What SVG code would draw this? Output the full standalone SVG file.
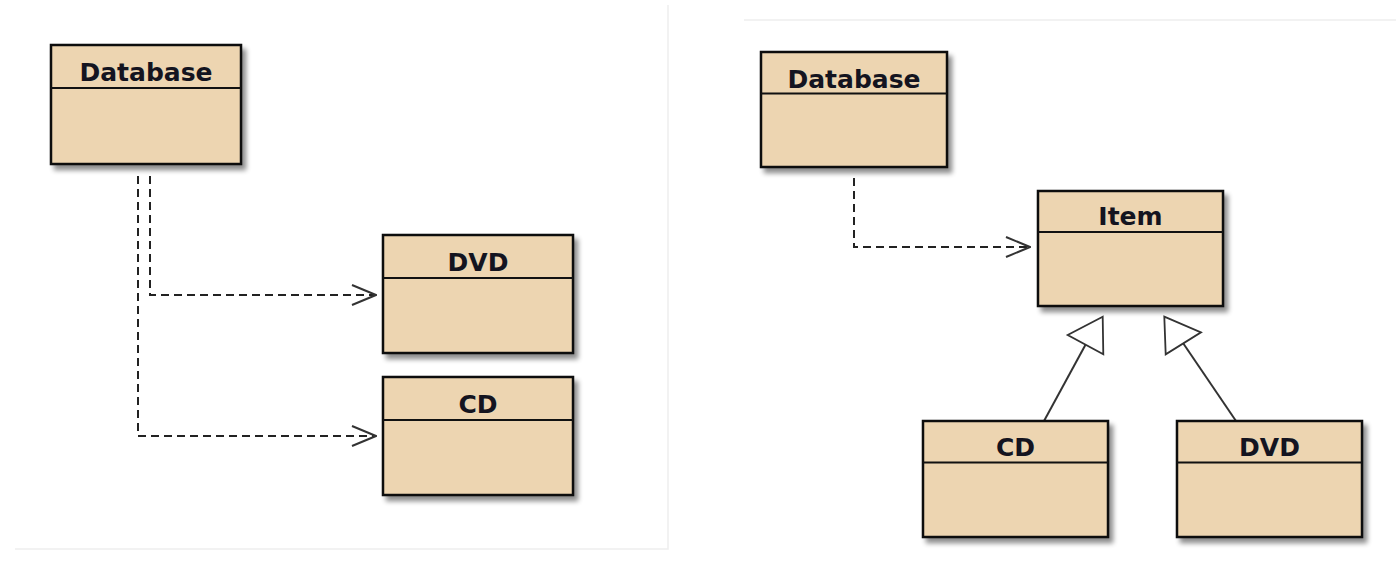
<svg xmlns="http://www.w3.org/2000/svg" width="1396" height="584" viewBox="0 0 1396 584">
<defs>
<filter id="sh" x="-10%" y="-10%" width="130%" height="130%">
<feGaussianBlur in="SourceAlpha" stdDeviation="2.5"/>
<feOffset dx="4" dy="5" result="b"/>
<feComponentTransfer><feFuncA type="linear" slope="0.45"/></feComponentTransfer>
<feMerge><feMergeNode/><feMergeNode in="SourceGraphic"/></feMerge>
</filter>
<marker id="open" viewBox="0 0 26 22" refX="25" refY="11" markerWidth="26" markerHeight="22" markerUnits="userSpaceOnUse" orient="auto">
<path d="M1,1 L25,11 L1,21" fill="none" stroke="#333" stroke-width="2"/>
</marker>
</defs>
<style>
.box{fill:#EDD5B1;stroke:#111;stroke-width:2.5}
.sep{stroke:#111;stroke-width:2}
.t{font-family:"DejaVu Sans",sans-serif;font-weight:bold;font-size:25px;fill:#141420;text-anchor:middle}
.dep{fill:none;stroke:#222;stroke-width:2;stroke-dasharray:8,5}
.gen{fill:none;stroke:#333;stroke-width:2}
.tri{fill:#fff;stroke:#333;stroke-width:1.8}
.frame{stroke:#eeeeee;stroke-width:1.5;fill:none}
</style>
<rect width="1396" height="584" fill="#fff"/>
<path class="frame" d="M668,5 V549 H15"/>
<path class="frame" d="M744,20 H1396"/>

<g id="connectors">
<path class="dep" d="M150,176 V295 H376" marker-end="url(#open)"/>
<path class="dep" d="M138,176 V436 H376" marker-end="url(#open)"/>
<path class="dep" d="M854,178 V247 H1030" marker-end="url(#open)"/>
<line class="gen" x1="1044" y1="421" x2="1085.5" y2="344.7"/>
<polygon class="tri" points="1102.7,316.7 1067.7,335 1103.3,354.3"/>
<line class="gen" x1="1236" y1="421" x2="1183" y2="343"/>
<polygon class="tri" points="1164.3,316.7 1201,332.3 1165.7,354.3"/>
</g>

<g id="db1">
<rect class="box" x="51" y="45" width="190" height="119" filter="url(#sh)"/>
<line class="sep" x1="51" y1="88" x2="241" y2="88"/>
<text class="t" x="146" y="81">Database</text>
</g>
<g id="dvd1">
<rect class="box" x="383" y="235" width="190" height="118" filter="url(#sh)"/>
<line class="sep" x1="383" y1="278" x2="573" y2="278"/>
<text class="t" x="478" y="271">DVD</text>
</g>
<g id="cd1">
<rect class="box" x="383" y="377" width="190" height="118" filter="url(#sh)"/>
<line class="sep" x1="383" y1="420" x2="573" y2="420"/>
<text class="t" x="478" y="413">CD</text>
</g>
<g id="db2">
<rect class="box" x="761" y="52" width="186" height="115" filter="url(#sh)"/>
<line class="sep" x1="761" y1="93.5" x2="947" y2="93.5"/>
<text class="t" x="854" y="88">Database</text>
</g>
<g id="item">
<rect class="box" x="1038" y="191" width="185" height="115" filter="url(#sh)"/>
<line class="sep" x1="1038" y1="232" x2="1223" y2="232"/>
<text class="t" x="1130.5" y="225">Item</text>
</g>
<g id="cd2">
<rect class="box" x="923" y="421" width="185" height="116" filter="url(#sh)"/>
<line class="sep" x1="923" y1="462.5" x2="1108" y2="462.5"/>
<text class="t" x="1015.5" y="456">CD</text>
</g>
<g id="dvd2">
<rect class="box" x="1177" y="421" width="185" height="116" filter="url(#sh)"/>
<line class="sep" x1="1177" y1="462.5" x2="1362" y2="462.5"/>
<text class="t" x="1269.5" y="456">DVD</text>
</g>
</svg>
